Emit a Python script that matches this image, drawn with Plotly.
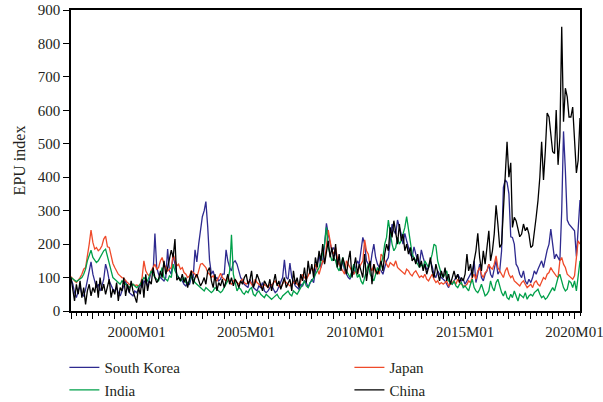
import pandas as pd
import plotly.graph_objects as go

# Monthly EPU index, 1997M01 - 2020M04 (one row per year)
months = pd.date_range("1997-01-01", periods=280, freq="MS")

south_korea = [
    95, 80, 55, 40, 60, 75, 50, 45, 65, 90, 120, 147,
    110, 85, 70, 80, 60, 75, 95, 140, 120, 90, 75, 65,
    60, 70, 55, 45, 60, 75, 90, 70, 55, 50, 45, 60,
    55, 65, 80, 70, 90, 85, 75, 95, 120, 110, 232, 130,
    110, 100, 95, 90, 100, 185, 120, 110, 170, 140, 110, 100,
    95, 90, 80, 75, 85, 80, 100, 100, 183, 147, 200, 250,
    282, 300, 327, 250, 152, 110, 120, 95, 100, 90, 95, 110,
    110, 183, 150, 130, 120, 145, 150, 140, 120, 100, 90, 80,
    75, 70, 95, 80, 70, 65, 60, 75, 70, 85, 60, 55,
    60, 70, 80, 65, 55, 60, 75, 90, 100, 153, 100, 95,
    143, 100, 85, 75, 70, 65, 80, 75, 90, 85, 70, 80,
    95, 85, 120, 140, 170, 130, 150, 200, 262, 230, 200, 180,
    190, 170, 160, 140, 130, 150, 120, 110, 100, 95, 120, 110,
    130, 150, 140, 180, 220, 200, 150, 140, 130, 170, 200, 160,
    140, 130, 120, 110, 130, 150, 160, 220, 260, 240, 230, 272,
    250, 230, 200, 232, 210, 190, 170, 160, 192, 170, 150, 140,
    183, 160, 140, 123, 130, 150, 133, 110, 100, 120, 110, 100,
    95, 90, 80, 70, 85, 80, 90, 100, 110, 100, 90, 95,
    80, 90, 100, 110, 120, 150, 85, 110, 140, 100, 90, 110,
    120, 140, 110, 100, 130, 152, 110, 120, 180, 370, 392, 385,
    350, 222, 220, 200, 140, 130, 110, 100, 120, 90, 80, 95,
    85, 100, 120, 110, 125, 140, 150, 130, 160, 182, 200, 245,
    200, 156, 170, 160, 150, 300, 537, 420, 272, 260, 252, 245,
    240, 163, 250, 332,
]

japan = [
    103, 95, 90, 85, 92, 100, 110, 125, 130, 160, 200, 242,
    205, 185, 190, 180, 185, 195, 215, 224, 192, 190, 160, 142,
    130, 120, 110, 105, 100, 98, 90, 85, 80, 78, 80, 76,
    78, 75, 80, 100, 150, 120, 110, 105, 120, 130, 140, 125,
    130, 150, 160, 140, 130, 120, 125, 130, 170, 150, 135, 140,
    125, 130, 115, 110, 100, 105, 120, 115, 110, 100, 125, 140,
    142, 135, 130, 115, 110, 100, 105, 95, 90, 100, 113, 100,
    95, 90, 100, 85, 80, 90, 95, 85, 80, 90, 95, 85,
    80, 85, 90, 80, 75, 95, 85, 80, 75, 70, 80, 75,
    70, 80, 75, 85, 90, 80, 75, 70, 80, 90, 85, 80,
    75, 80, 85, 90, 80, 75, 90, 110, 100, 95, 105, 120,
    130, 120, 140, 125, 110, 130, 150, 145, 200, 242, 210, 180,
    170, 190, 160, 140, 130, 120, 110, 150, 140, 130, 120, 110,
    120, 110, 130, 140, 150, 213, 180, 170, 130, 120, 140, 110,
    120, 110, 170, 163, 150, 140, 130, 145, 140, 135, 150, 130,
    125, 120, 115, 110, 125, 120, 110, 105, 115, 120, 110, 100,
    105, 100, 110, 95, 90, 100, 110, 95, 85, 90, 80, 85,
    80, 85, 90, 75, 80, 85, 90, 80, 95, 85, 80, 75,
    75, 80, 90, 85, 100, 110, 95, 120, 130, 110, 100, 115,
    120, 140, 130, 125, 140, 165, 130, 120, 110, 100, 120, 130,
    110, 100, 105, 90, 85, 80, 75, 85, 90, 80, 70, 75,
    80, 70, 85, 90, 80, 75, 90, 100, 95, 110, 115, 130,
    120, 110, 105, 100, 150, 160, 140, 130, 110, 105, 100, 95,
    105, 150, 210, 200,
]

india = [
    100, 95, 90, 88, 92, 95, 100, 110, 125, 150, 165, 182,
    160, 150, 145, 150, 160, 170, 180, 185, 165, 140, 120, 100,
    95, 90, 85, 80, 90, 85, 80, 75, 70, 75, 80, 75,
    70, 75, 80, 90, 100, 95, 90, 105, 120, 110, 100, 95,
    90, 110, 130, 100, 95, 90, 105, 100, 140, 120, 110, 100,
    90, 95, 100, 85, 80, 90, 110, 95, 85, 80, 75, 70,
    65, 60, 70, 65, 60, 55, 60, 70, 65, 60, 55, 60,
    70, 80, 90, 120, 228, 110, 80, 60, 70, 65, 55, 50,
    60, 55, 65, 70, 50, 45, 55, 60, 50, 45, 40, 50,
    45, 40, 35, 40, 45, 50, 40, 35, 45, 50, 55, 60,
    50, 45, 60, 55, 50, 60, 70, 80, 90, 75, 70, 85,
    90, 100, 110, 120, 130, 150, 175, 200, 250, 190, 170, 150,
    160, 150, 130, 120, 140, 160, 130, 120, 110, 100, 120, 140,
    120, 100, 110, 90, 80, 100, 120, 140, 110, 100, 90, 110,
    130, 120, 140, 160, 200, 220, 272, 230, 200, 180, 190, 220,
    200, 210, 230, 250, 282, 240, 200, 170, 160, 150, 140, 130,
    140, 130, 150, 140, 130, 150, 170, 200, 195, 150, 130, 110,
    100, 110, 120, 90, 85, 80, 90, 75, 70, 80, 85, 70,
    75, 65, 60, 80, 95, 70, 60, 55, 65, 80, 60, 45,
    50, 60, 90, 70, 60, 85, 95, 70, 55, 45, 60, 40,
    35, 50, 40, 60, 45, 30, 50, 45, 40, 55, 35, 45,
    50, 45, 55, 60, 65, 50, 40, 45, 35, 40, 50, 60,
    70, 60, 80, 100, 110, 90, 70, 60, 65, 90, 85, 70,
    90, 60, 100, 150,
]

china = [
    100, 60, 30, 80, 50, 90, 40, 70, 20, 60, 80, 45,
    70, 55, 90, 40, 100, 60, 80, 50, 70, 95, 40, 65,
    50, 85, 30, 70, 60, 100, 45, 80, 55, 90, 60, 40,
    25, 70, 50, 95, 40, 110, 60, 90, 80, 130, 100, 85,
    95, 120, 100, 150, 110, 130, 152, 182, 160, 215, 92, 100,
    90, 110, 85, 100, 70, 95, 120, 80, 100, 110, 90, 75,
    85, 100, 80, 120, 130, 90, 70, 110, 60, 85, 75, 95,
    70, 90, 110, 80, 100, 75, 95, 85, 70, 90, 80, 100,
    110, 80, 90, 120, 70, 85, 110, 95, 75, 60, 90, 80,
    70, 95, 60, 85, 110, 75, 90, 65, 80, 100, 70, 85,
    95, 60, 120, 80, 100, 70, 110, 90, 130, 85, 150, 110,
    140, 100, 160, 130, 180, 150, 200, 140, 170, 210, 160, 190,
    150, 200, 130, 170, 120, 160, 140, 110, 150, 180, 100, 130,
    160, 110, 140, 120, 100, 170, 90, 130, 150, 80, 140, 120,
    110, 130, 150, 120, 170, 200, 180, 250, 220, 270, 240, 200,
    260, 210, 230, 180, 200, 170, 190, 150, 160, 140, 170, 130,
    150, 120, 140, 110, 130, 160, 120, 100, 140, 110, 90, 120,
    100, 130, 90, 110, 80, 100, 120, 95, 110, 85, 100, 90,
    110, 170, 120, 140, 100, 150, 180, 232, 160, 120, 180, 140,
    200, 240, 150, 180, 230, 316, 260, 190, 200, 300, 392, 506,
    400, 443, 250, 280, 270, 240, 222, 230, 260, 240, 250, 230,
    190, 195, 230, 281, 330, 400, 506, 392, 480, 592, 580, 520,
    476, 471, 601, 437, 520, 850, 566, 666, 640, 580, 580, 610,
    520, 413, 450, 577,
]

series_names = ["South Korea", "Japan", "India", "China"]
series_colors = ["#2e2a8f", "#ef4a2a", "#00a04a", "#000000"]
# left legend column holds South Korea and India, right column Japan and China
series_legends = ["legend", "legend2", "legend", "legend2"]

year_ticks = pd.date_range("1997-01-01", "2020-01-01", freq="YS")
year_labels = [f"{d.year}M01" if d.year % 5 == 0 else "" for d in year_ticks]

fig = go.Figure()
for name, values, color, lg in zip(series_names, [south_korea, japan, india, china],
                                   series_colors, series_legends):
    fig.add_trace(go.Scatter(
        x=months, y=values, mode="lines", name=name, legend=lg,
        line=dict(color=color, width=1.3),
    ))

axis_font = dict(family="Liberation Serif", size=15, color="#231f20")
legend_style = dict(orientation="v", y=-0.133, xanchor="left", yanchor="top",
                    font=axis_font, tracegroupgap=0, itemwidth=30,
                    bgcolor="rgba(0,0,0,0)")

fig.update_layout(
    width=603, height=402,
    margin=dict(l=71, r=23, t=10, b=91, autoexpand=False),
    paper_bgcolor="white", plot_bgcolor="white",
    font=axis_font,
    showlegend=True,
    legend=dict(x=-0.013, **legend_style),
    legend2=dict(x=0.547, **legend_style),
)

fig.update_xaxes(
    range=[months[0], months[-1]],
    tickmode="array", tickvals=year_ticks, ticktext=year_labels,
    ticks="outside", ticklen=6, tickwidth=1, tickcolor="black",
    ticklabeloverflow="allow",
    minor=dict(dtick="M3", tick0="1997-01-01", ticks="outside", ticklen=3,
               tickwidth=1, tickcolor="black", showgrid=False),
    showline=True, linecolor="black", linewidth=1.5, mirror=True,
    showgrid=False, zeroline=False, tickfont=axis_font,
)

fig.update_yaxes(
    range=[0, 900], dtick=100, tick0=0,
    ticks="outside", ticklen=6, tickwidth=1, tickcolor="black",
    showline=True, linecolor="black", linewidth=1.5, mirror=True,
    showgrid=False, zeroline=False, tickfont=axis_font,
    title=dict(text="EPU index", font=dict(family="Liberation Serif", size=16, color="#231f20"), standoff=8),
)

fig.write_html("out.html")
